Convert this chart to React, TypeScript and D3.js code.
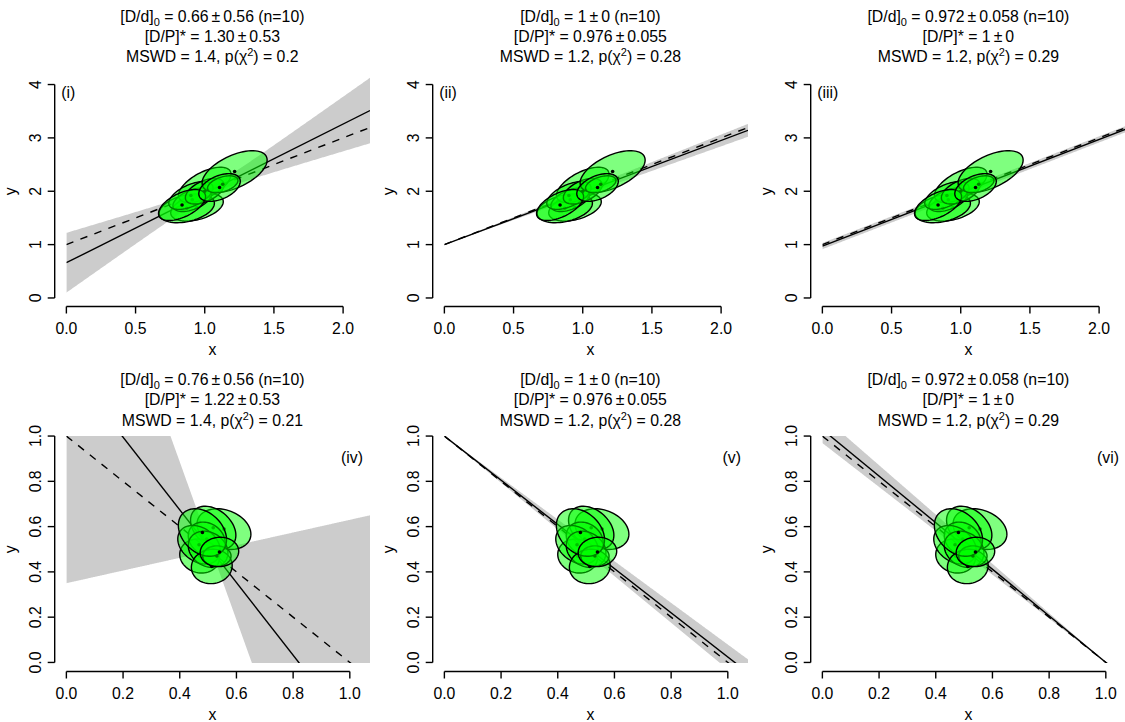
import * as d3 from "d3";

// ---- panel annotations ----
const panelTags = ["(i)", "(ii)", "(iii)", "(iv)", "(v)", "(vi)"];
const d0Value = ["0.66", "1", "0.972", "0.76", "1", "0.972"];
const d0Error = ["0.56", "0", "0.058", "0.56", "0", "0.058"];
const dpValue = ["1.30", "0.976", "1", "1.22", "0.976", "1"];
const dpError = ["0.53", "0.055", "0", "0.53", "0.055", "0"];
const mswdValue = ["1.4", "1.2", "1.2", "1.4", "1.2", "1.2"];
const pValue = ["0.2", "0.28", "0.29", "0.21", "0.28", "0.29"];
const nValue = 10;

// ---- fitted line (plot coordinates) and its error envelope ----
const fitIntercept = [0.66, 1, 0.972, 1.316, 1, 1.029];
const fitSlope = [1.3, 0.976, 1, -1.605, -0.976, -1.029];
const bandInterceptErr = [0.56, 0, 0.058, 0.966, 0, 0.06];
const bandSlopeErr = [0.53, 0.055, 0, 1.885, 0.055, 0.06];
const bandRho = [-0.99, 0, 0, -1, 0, -1];

// ---- dashed reference line ----
const refIntercept = [1, 1, 1, 1, 1, 1];
const refSlope = [1, 1, 1, -1, -1, -1];

// ---- error ellipses, normal isochron (top row): x, y, half-width x, half-width y, rho ----
// listed in drawing order
const normX = [0.944, 0.87, 1.0, 0.91, 0.9, 1.0, 1.216, 1.13, 0.836, 1.107];
const normY = [1.7, 1.68, 2.12, 1.84, 1.92, 2.0, 2.37, 2.13, 1.742, 2.07];
const normSx = [0.19, 0.2, 0.19, 0.14, 0.16, 0.14, 0.235, 0.11, 0.17, 0.15];
const normSy = [0.26, 0.27, 0.33, 0.22, 0.26, 0.24, 0.39, 0.16, 0.29, 0.26];
const normRho = [0.4, 0.35, 0.6, 0.5, 0.55, 0.5, 0.55, 0.45, 0.55, 0.45];

// ---- error ellipses, inverse isochron (bottom row) ----
const invX = [0.556, 0.518, 0.47, 0.495, 0.468, 0.5, 0.513, 0.531, 0.48, 0.54];
const invY = [0.589, 0.595, 0.47, 0.545, 0.52, 0.5, 0.424, 0.47, 0.574, 0.488];
const invSx = [0.095, 0.08, 0.07, 0.065, 0.075, 0.07, 0.072, 0.05, 0.085, 0.068];
const invSy = [0.09, 0.095, 0.075, 0.075, 0.085, 0.08, 0.076, 0.045, 0.105, 0.065];
const invRho = [-0.25, -0.35, -0.1, -0.2, -0.3, -0.2, 0.05, 0, -0.3, 0.05];

// ---- axes ----
const rowXlim = [[0, 2.11], [0, 1.03]];
const rowYlim = [[0, 4], [0, 1]];
const rowXTicks = [[0, 0.5, 1, 1.5, 2], [0, 0.2, 0.4, 0.6, 0.8, 1]];
const rowYTicks = [[0, 1, 2, 3, 4], [0, 0.2, 0.4, 0.6, 0.8, 1]];

const W = 1125;
const H = 722;
const FONT = "'Liberation Sans', Arial, Helvetica, sans-serif";
const FS = 15.8;
const colLeft = [0, 378, 756];
const rowTop = [76, 427];
const rowBottom = [306.5, 671.5];
const rowTitle = [21.7, 385.3];

function PlusMinus({ v, e }: { v: string; e: string }) {
  return (
    <>
      <tspan>{v}</tspan>
      <tspan dx={3}>±</tspan>
      <tspan dx={3}>{e}</tspan>
    </>
  );
}

function Panel({ i }: { i: number }) {
  const row = Math.floor(i / 3);
  const col = i % 3;
  const left = colLeft[col] + 54.7;
  const right = colLeft[col] + 370;
  const top = rowTop[row];
  const bottom = rowBottom[row];
  const xl = rowXlim[row];
  const yl = rowYlim[row];
  const xp = 0.04 * (xl[1] - xl[0]);
  const yp = 0.04 * (yl[1] - yl[0]);
  const x = d3.scaleLinear().domain([xl[0] - xp, xl[1] + xp]).range([left, right]);
  const y = d3.scaleLinear().domain([yl[0] - yp, yl[1] + yp]).range([bottom, top]);
  const xEnd = x.domain()[1];
  const clipTop = row === 0 ? y.domain()[1] : yl[1];

  const a = fitIntercept[i];
  const b = fitSlope[i];
  const sa = bandInterceptErr[i];
  const sb = bandSlopeErr[i];
  const r = bandRho[i];
  const hw = (t: number) => Math.sqrt(Math.max(0, sa * sa + 2 * t * r * sa * sb + t * t * sb * sb));
  const xs = d3.range(0, 401).map((k) => (k / 400) * xEnd);
  const band = d3
    .area<number>()
    .x((t) => x(t))
    .y0((t) => y(a + b * t - hw(t)))
    .y1((t) => y(a + b * t + hw(t)))(xs);
  const line = d3.line<number>().x((t) => x(t)).y((t) => y(a + b * t));
  const refLine = d3.line<number>().x((t) => x(t)).y((t) => y(refIntercept[i] + refSlope[i] * t));

  const ex = row === 0 ? normX : invX;
  const ey = row === 0 ? normY : invY;
  const esx = row === 0 ? normSx : invSx;
  const esy = row === 0 ? normSy : invSy;
  const erho = row === 0 ? normRho : invRho;
  const ts = d3.range(0, 72).map((k) => (k / 72) * 2 * Math.PI);
  const ellipse = (k: number) =>
    d3
      .line<number>()
      .curve(d3.curveLinearClosed)
      .x((t) => x(ex[k] + esx[k] * Math.cos(t)))
      .y((t) => y(ey[k] + esy[k] * (erho[k] * Math.cos(t) + Math.sqrt(1 - erho[k] * erho[k]) * Math.sin(t))))(ts);

  const xt = rowXTicks[row];
  const yt = rowYTicks[row];
  const fx = d3.format(".1f");
  const fy = row === 0 ? d3.format("d") : d3.format(".1f");
  const cx = (left + right) / 2;
  const cy = (top + bottom) / 2;
  const tb = rowTitle[row];

  return (
    <g>
      <defs>
        <clipPath id={`clip${i}`}>
          <rect x={x(0)} y={y(clipTop)} width={right - x(0)} height={y(0) - y(clipTop) + 0.5} />
        </clipPath>
      </defs>
      <g clipPath={`url(#clip${i})`}>
        <path d={band ?? ""} fill="#cccccc" stroke="none" />
        <path d={line([0, xEnd]) ?? ""} fill="none" stroke="#000" strokeWidth={1.4} />
        <path d={refLine([0, xEnd]) ?? ""} fill="none" stroke="#000" strokeWidth={1.4} strokeDasharray="7.5,7.5" />
      </g>
      {ex.map((_, k) => (
        <g key={k}>
          <path d={ellipse(k) ?? ""} fill="rgba(0,255,0,0.5)" stroke="#000" strokeWidth={1.4} />
          <circle cx={x(ex[k])} cy={y(ey[k])} r={1.8} fill="#000" />
        </g>
      ))}

      {/* axes */}
      <g fill="none" stroke="#000" strokeWidth={1.4}>
        <line x1={x(xt[0])} x2={x(xt[xt.length - 1])} y1={bottom} y2={bottom} />
        {xt.map((t) => (
          <line key={t} x1={x(t)} x2={x(t)} y1={bottom} y2={bottom + 7} />
        ))}
        <line x1={left} x2={left} y1={y(yt[0])} y2={y(yt[yt.length - 1])} />
        {yt.map((t) => (
          <line key={t} x1={left} x2={left - 7} y1={y(t)} y2={y(t)} />
        ))}
      </g>
      <g fontFamily={FONT} fontSize={FS} fill="#000">
        {xt.map((t) => (
          <text key={t} x={x(t)} y={bottom + 27.5} textAnchor="middle">
            {fx(t)}
          </text>
        ))}
        {yt.map((t) => (
          <text key={t} transform={`translate(${left - 14},${y(t)}) rotate(-90)`} textAnchor="middle">
            {fy(t)}
          </text>
        ))}
        <text x={cx} y={row === 0 ? 355 : 719.5} textAnchor="middle">x</text>
        <text transform={`translate(${colLeft[col] + 16},${cy}) rotate(-90)`} textAnchor="middle">y</text>
        {row === 0 ? (
          <text x={left + 6.5} y={top + 21.5}>{panelTags[i]}</text>
        ) : (
          <text x={right - 7} y={top + 36} textAnchor="end">{panelTags[i]}</text>
        )}
        <text x={cx} y={tb} textAnchor="middle">
          <tspan>[D/d]</tspan>
          <tspan fontSize={11} dy={4}>0</tspan>
          <tspan dy={-4}> = </tspan>
          <PlusMinus v={d0Value[i]} e={d0Error[i]} />
          <tspan>{` (n=${nValue})`}</tspan>
        </text>
        <text x={cx} y={tb + 20} textAnchor="middle">
          <tspan>{"[D/P]* = "}</tspan>
          <PlusMinus v={dpValue[i]} e={dpError[i]} />
        </text>
        <text x={cx} y={tb + 40.5} textAnchor="middle">
          <tspan>{`MSWD = ${mswdValue[i]}, p(χ`}</tspan>
          <tspan fontSize={11} dy={-6}>2</tspan>
          <tspan dy={6}>{`) = ${pValue[i]}`}</tspan>
        </text>
      </g>
    </g>
  );
}

export default function App() {
  return (
    <svg
      width={W}
      height={H}
      viewBox={`0 0 ${W} ${H}`}
      style={{ position: "absolute", left: 0, top: 0, background: "#fff", display: "block" }}
    >
      <rect width={W} height={H} fill="#fff" />
      {panelTags.map((_, i) => (
        <Panel key={i} i={i} />
      ))}
    </svg>
  );
}
